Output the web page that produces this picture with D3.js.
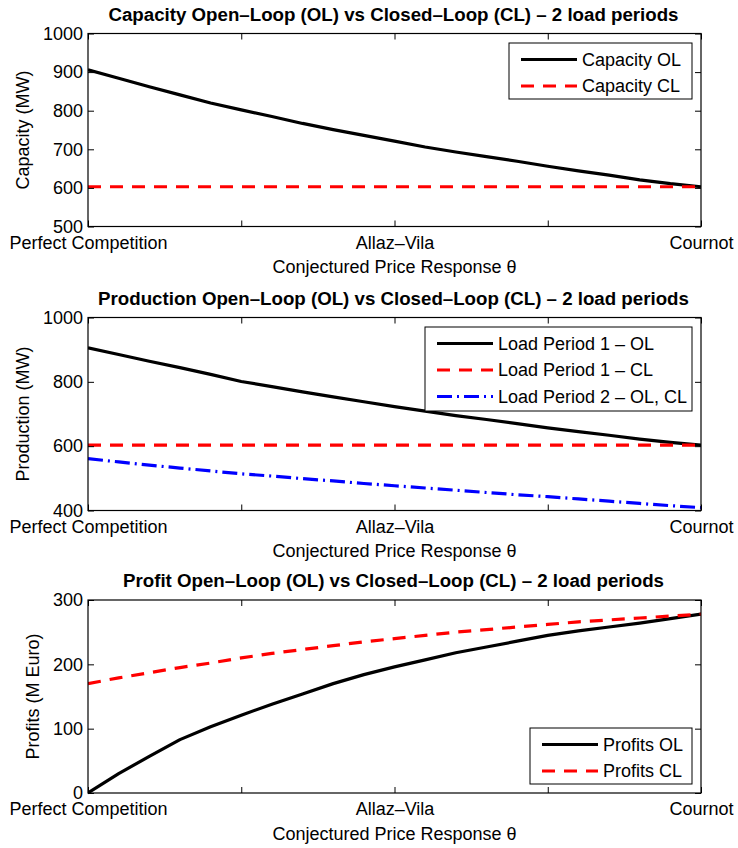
<!DOCTYPE html>
<html>
<head>
<meta charset="utf-8">
<script src="https://cdn.jsdelivr.net/npm/d3@7"></script>
<style>
  html, body { margin: 0; padding: 0; background: #fff; }
  svg text { font-family: "Liberation Sans", Arial, Helvetica, sans-serif; fill: #000; }
</style>
</head>
<body>
<svg id="fig" width="738" height="848"></svg>
<script>
// ---------------- data ----------------
const theta = [0, 0.05, 0.1, 0.15, 0.2, 0.25, 0.3, 0.35, 0.4, 0.45, 0.5, 0.55, 0.6, 0.65, 0.7, 0.75, 0.8, 0.85, 0.9, 0.95, 1];
const xTickValues = [0, 0.25, 0.5, 0.75, 1];
const xTickLabels = ["Perfect Competition", "", "Allaz\u2013Vila", "", "Cournot"];
const xLabel = "Conjectured Price Response \u03b8";

const capacityOL = [906, 884, 862, 841, 820, 802, 785, 767, 751, 736, 721, 706, 693, 681, 669, 656, 644, 633, 621, 611, 603];
const capacityCL = [603, 603, 603, 603, 603, 603, 603, 603, 603, 603, 603, 603, 603, 603, 603, 603, 603, 603, 603, 603, 603];

const prodLP1OL = [906, 885, 864, 844, 823, 801, 785, 769, 753, 738, 723, 709, 695, 683, 670, 657, 645, 634, 622, 612, 603];
const prodLP1CL = [603, 603, 603, 603, 603, 603, 603, 603, 603, 603, 603, 603, 603, 603, 603, 603, 603, 603, 603, 603, 603];
const prodLP2 = [561, 551, 541, 532, 523, 514, 507, 499, 492, 484, 477, 470, 463, 456, 449, 443, 436, 429, 422, 415, 409];

const profitOL = [0, 30, 57, 83, 103, 121, 138, 154, 170, 184, 196, 207, 218, 227, 236, 245, 252, 258, 264, 271, 278];
const profitCL = [170, 179, 187, 195, 202, 210, 217, 223, 229, 235, 240, 245, 250, 254, 258, 262, 266, 269, 272, 275, 278];

const capTicks = [500, 600, 700, 800, 900, 1000];
const prodTicks = [400, 600, 800, 1000];
const profitTicks = [0, 100, 200, 300];

const titles = [
  "Capacity Open\u2013Loop (OL) vs Closed\u2013Loop (CL) \u2013 2 load periods",
  "Production Open\u2013Loop (OL) vs Closed\u2013Loop (CL) \u2013 2 load periods",
  "Profit Open\u2013Loop (OL) vs Closed\u2013Loop (CL) \u2013 2 load periods"
];
const yLabels = ["Capacity (MW)", "Production (MW)", "Profits (M Euro)"];

// ---------------- styles ----------------
const STY = {
  solid: { color: "#000000", dash: null },
  dash: { color: "#ff0000", dash: "13,9" },
  dashdot: { color: "#0000ff", dash: "15,5,2,5" }
};

const panels = [
  { top: 33.5, domain: [500, 1000], ticks: capTicks, yLabelX: 29,
    series: [ { name: "Capacity OL", v: capacityOL, s: STY.solid }, { name: "Capacity CL", v: capacityCL, s: STY.dash } ],
    legend: { pos: "tr", w: 183, dy: 9.5 } },
  { top: 317.5, domain: [400, 1000], ticks: prodTicks, yLabelX: 29,
    series: [ { name: "Load Period 1 \u2013 OL", v: prodLP1OL, s: STY.solid }, { name: "Load Period 1 \u2013 CL", v: prodLP1CL, s: STY.dash }, { name: "Load Period 2 \u2013 OL, CL", v: prodLP2, s: STY.dashdot } ],
    legend: { pos: "tr", w: 267, dy: 9.5 } },
  { top: 600, domain: [0, 300], ticks: profitTicks, yLabelX: 39,
    series: [ { name: "Profits OL", v: profitOL, s: STY.solid }, { name: "Profits CL", v: profitCL, s: STY.dash } ],
    legend: { pos: "br", w: 162, dy: 9 } }
];

const L = 88, R = 701, H = 193;
const FS = 18;
const svg = d3.select("#fig");
const x = d3.scaleLinear().domain([0, 1]).range([L, R]);

panels.forEach((p, i) => {
  const top = p.top, bottom = top + H;
  const y = d3.scaleLinear().domain(p.domain).range([bottom, top]);
  const g = svg.append("g");

  // lines
  const clipId = "clip" + i;
  svg.append("clipPath").attr("id", clipId).append("rect")
    .attr("x", L).attr("y", top - 2).attr("width", R - L).attr("height", H + 4);
  const line = d3.line().x((d, k) => x(theta[k])).y(d => y(d));
  p.series.forEach(s => {
    g.append("path").datum(s.v)
      .attr("clip-path", "url(#" + clipId + ")")
      .attr("d", line)
      .attr("fill", "none")
      .attr("stroke", s.s.color)
      .attr("stroke-width", 3.2)
      .attr("stroke-dasharray", s.s.dash)
      .attr("stroke-linejoin", "round");
  });

  // axes (ticks inward)
  const ax = g.append("g").attr("class", "axes");
  const bAxis = d3.axisBottom(x).tickValues(xTickValues).tickSize(-6).tickSizeOuter(0).tickPadding(9.7)
      .tickFormat((d, k) => xTickLabels[k]);
  ax.append("g").attr("transform", `translate(0,${bottom})`).call(bAxis);
  ax.append("g").attr("transform", `translate(0,${top})`)
    .call(d3.axisTop(x).tickValues(xTickValues).tickSize(-6).tickSizeOuter(0).tickFormat(""));
  ax.append("g").attr("transform", `translate(${L},0)`)
    .call(d3.axisLeft(y).tickValues(p.ticks).tickSize(-6).tickSizeOuter(0).tickPadding(5).tickFormat(d3.format("d")));
  ax.append("g").attr("transform", `translate(${R},0)`)
    .call(d3.axisRight(y).tickValues(p.ticks).tickSize(-6).tickSizeOuter(0).tickFormat(""));
  ax.selectAll(".domain").remove();
  ax.selectAll(".tick line").attr("stroke", "#000").attr("stroke-width", 1);
  ax.selectAll(".tick text").attr("font-size", FS).attr("font-family", "Liberation Sans, Arial, sans-serif").attr("fill", "#000");

  // legend
  const lg = p.legend;
  const n = p.series.length;
  const rowH = 26.5;
  const boxH = n === 3 ? 84 : 56;
  const lx = R - 9 - lg.w;
  const ly = lg.pos === "tr" ? top + lg.dy : bottom - lg.dy - boxH;
  const leg = g.append("g");
  leg.append("rect").attr("x", lx).attr("y", ly).attr("width", lg.w).attr("height", boxH)
    .attr("fill", "#fff").attr("stroke", "#000").attr("stroke-width", 1);
  p.series.forEach((s, k) => {
    const cy = ly + 16.5 + k * rowH;
    leg.append("line").attr("x1", lx + 12).attr("x2", lx + 68).attr("y1", cy).attr("y2", cy)
      .attr("stroke", s.s.color).attr("stroke-width", 3.2).attr("stroke-dasharray", s.s.dash);
    leg.append("text").attr("x", lx + 73).attr("y", cy).attr("dy", "0.35em")
      .attr("font-size", FS).text(s.name);
  });

  // box
  g.append("rect").attr("x", L).attr("y", top).attr("width", R - L).attr("height", H)
    .attr("fill", "none").attr("stroke", "#000").attr("stroke-width", 1.2);

  // title
  g.append("text").attr("x", (L + R) / 2 - 1).attr("y", top - 13).attr("text-anchor", "middle")
    .attr("font-size", 18.7).attr("font-weight", "bold").text(titles[i]);
  // x label
  g.append("text").attr("x", (L + R) / 2).attr("y", bottom + 46.5).attr("text-anchor", "middle")
    .attr("font-size", FS).text(xLabel);
  // y label
  g.append("text").attr("transform", `translate(${p.yLabelX},${(top + bottom) / 2}) rotate(-90)`)
    .attr("text-anchor", "middle").attr("font-size", FS).text(yLabels[i]);
});
</script>
</body>
</html>
